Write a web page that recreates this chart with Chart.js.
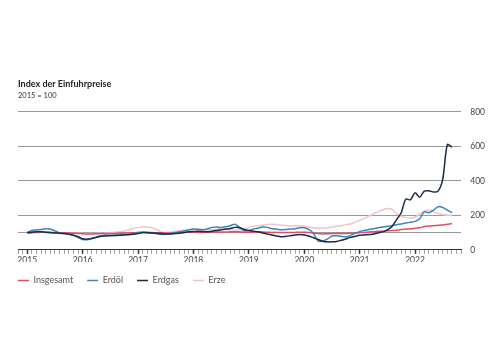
<!DOCTYPE html>
<html>
<head>
<meta charset="utf-8">
<script src="https://cdn.jsdelivr.net/npm/chart.js@4.4.0/dist/chart.umd.min.js"></script>
<style>
  html, body { margin: 0; padding: 0; background: #fff; }
  #wrap { width: 500px; height: 353px; }
</style>
</head>
<body>
<div id="wrap"><canvas id="importChart"></canvas></div>
<script>
// months counted from Jan 2015 (0) to Sep 2022 (92)
const yearLabels = ['2015', '2016', '2017', '2018', '2019', '2020', '2021', '2022'];
const yTicks = [0, 100, 200, 400, 600, 800];

const insgesamt = [
  97, 99, 101, 102, 102, 101, 100, 99, 98, 97, 96, 95,
  93, 92, 92, 93, 94, 95, 95, 95, 96, 97, 98, 99,
  100, 101, 100, 100, 99, 99, 98, 98, 99, 100, 101, 102,
  102, 101, 101, 102, 103, 103, 103, 103, 104, 105, 104, 102,
  102, 103, 103, 103, 102, 101, 101, 100, 100, 100, 101, 102,
  102, 101, 98, 94, 92, 93, 94, 95, 95, 95, 96, 97,
  99, 101, 103, 105, 107, 108, 110, 112, 114, 117, 120, 122,
  125, 128, 135, 138, 140, 142, 144, 148, 152
];
const erdoel = [
  100, 112, 115, 118, 122, 120, 110, 98, 95, 92, 85, 72,
  60, 58, 66, 74, 82, 86, 84, 82, 84, 90, 88, 95,
  100, 102, 98, 96, 94, 90, 90, 94, 100, 104, 110, 116,
  120, 118, 116, 120, 130, 132, 130, 134, 140, 148, 130, 110,
  112, 120, 126, 132, 130, 122, 120, 116, 118, 120, 122, 128,
  128, 118, 95, 52, 50, 62, 80, 82, 78, 76, 82, 95,
  105, 112, 118, 122, 128, 132, 136, 140, 145, 150, 155, 160,
  165, 180, 220, 215, 230, 250, 245, 230, 215
];
const erdgas = [
  100, 102, 104, 104, 102, 100, 98, 96, 94, 90, 84, 76,
  64, 62, 66, 72, 78, 80, 82, 84, 84, 86, 88, 90,
  94, 100, 100, 98, 96, 94, 92, 92, 94, 96, 100, 104,
  106, 108, 106, 104, 108, 112, 116, 120, 124, 130, 128, 118,
  112, 108, 104, 98, 92, 86, 80, 76, 78, 82, 86, 88,
  86, 80, 70, 60, 50, 46, 46, 48, 55, 63, 72, 78,
  84, 86, 88, 92, 98, 104, 115, 135, 175, 215, 294, 290,
  330, 305, 340, 342, 335, 340, 410, 610, 595
];
const erze = [
  100, 102, 104, 103, 100, 98, 96, 94, 94, 95, 96, 96,
  95, 94, 94, 95, 96, 98, 100, 102, 104, 108, 116, 124,
  130, 133, 132, 128, 118, 104, 100, 102, 106, 110, 114, 116,
  118, 120, 118, 116, 116, 118, 120, 118, 116, 115, 116, 120,
  130, 136, 140, 142, 146, 148, 146, 144, 140, 138, 138, 140,
  136, 132, 128, 126, 126, 128, 132, 136, 140, 146, 150, 160,
  170, 182, 195, 208, 220, 232, 240, 235, 210, 195, 188, 185,
  190, 205, 225, 230, 220, 210, 205, 200, 200
];

const toPoints = (arr) => arr.map((v, i) => ({ x: i, y: v }));

const series = [
  { label: 'Insgesamt', data: insgesamt, color: '#dd4f68' },
  { label: 'Erdöl', data: erdoel, color: '#3a86c0' },
  { label: 'Erdgas', data: erdgas, color: '#1b2b45' },
  { label: 'Erze', data: erze, color: '#f5c3cc' }
];

const ctx = document.getElementById('importChart').getContext('2d');
new Chart(ctx, {
  type: 'line',
  data: {
    datasets: series.map((s, i) => ({
      label: s.label,
      data: toPoints(s.data),
      xAxisID: 'x',
      yAxisID: 'y',
      borderColor: s.color,
      backgroundColor: s.color,
      borderWidth: 1.5,
      pointRadius: 0,
      tension: 0.3,
      order: [3, 2, 1, 4][i] // dark gas line drawn on top
    }))
  },
  options: {
    responsive: true,
    maintainAspectRatio: false,
    animation: false,
    layout: { padding: { top: 79, left: 4, right: 6, bottom: 58 } },
    plugins: {
      title: {
        display: true,
        text: 'Index der Einfuhrpreise',
        align: 'start',
        color: '#222',
        font: { family: 'Lato', size: 9, weight: 'bold' },
        padding: { top: 0, bottom: 1 },
        fullSize: false
      },
      subtitle: {
        display: true,
        text: '2015 = 100',
        align: 'start',
        color: '#333',
        font: { family: 'Lato', size: 7.5 },
        padding: { top: 0, bottom: 12 },
        fullSize: false
      },
      legend: {
        position: 'bottom',
        align: 'start',
        labels: {
          usePointStyle: true,
          pointStyle: 'line',
          pointStyleWidth: 11,
          boxHeight: 2,
          padding: 14,
          color: '#555',
          font: { family: 'Lato', size: 9 },
          sort: (a, b) => a.datasetIndex - b.datasetIndex
        }
      },
      tooltip: { enabled: false }
    },
    scales: {
      x: {
        type: 'linear',
        min: -2,
        max: 94,
        afterBuildTicks: (axis) => {
          const t = [];
          for (let m = -2; m <= 94; m++) t.push({ value: m });
          axis.ticks = t;
        },
        afterFit: (scale) => { scale.height -= 4; },
        ticks: {
          autoSkip: false,
          maxRotation: 0,
          color: '#444',
          font: { family: 'Lato', size: 8.5 },
          padding: 1,
          callback: (v) => (v >= 0 && v % 12 === 0 ? yearLabels[v / 12] : '')
        },
        grid: {
          drawOnChartArea: false,
          drawTicks: true,
          tickLength: 4,
          tickColor: (c) => (c.tick && c.tick.value % 12 === 0 ? '#333' : '#888'),
          tickWidth: (c) => (c.tick && c.tick.value % 12 === 0 ? 1.5 : 0.8)
        },
        border: { display: true, color: '#333', width: 1 }
      },
      y: {
        position: 'right',
        min: 0,
        max: 800,
        afterBuildTicks: (axis) => {
          axis.ticks = yTicks.map((v) => ({ value: v }));
        },
        ticks: {
          color: '#444',
          font: { family: 'Lato', size: 8.5 },
          padding: 9,
          callback: (v) => (v === 100 ? '' : v)
        },
        grid: {
          color: (c) => (c.tick && c.tick.value === 0 ? 'rgba(0,0,0,0)' : '#9a9a9a'),
          lineWidth: 1,
          drawTicks: false
        },
        border: { display: false }
      },
      // empty spacer on the left so the plot starts at the same x as the legend
      spacer: {
        position: 'left',
        display: true,
        min: 0,
        max: 1,
        afterFit: (scale) => { scale.width = 14; },
        ticks: { display: false },
        grid: { display: false },
        border: { display: false }
      }
    }
  }
});
</script>
</body>
</html>
